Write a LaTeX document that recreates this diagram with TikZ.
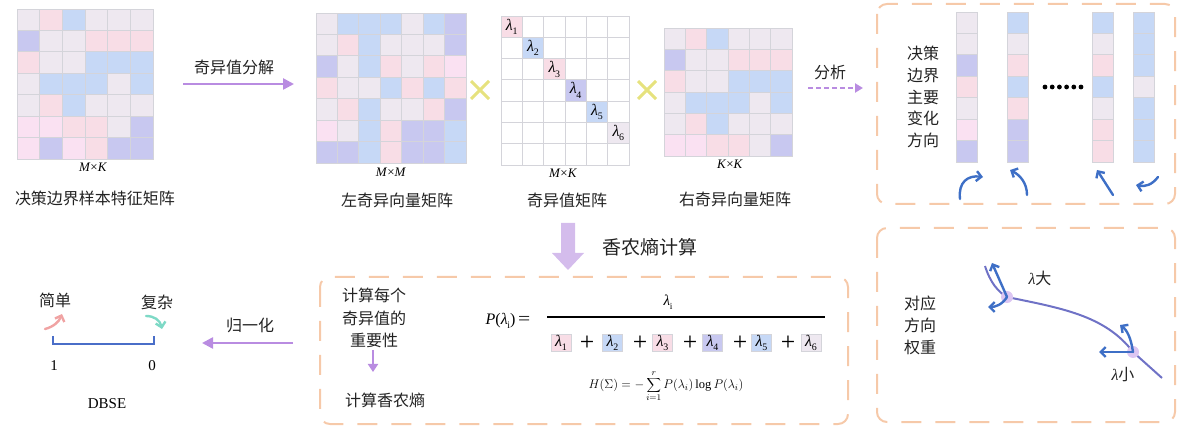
\RequirePackage{fix-cm}
\documentclass[tikz,border=0pt]{standalone}
\usepackage{fontspec}
\setmainfont{Liberation Serif}
\newfontfamily\cjk{Noto Sans CJK SC}
\usetikzlibrary{arrows.meta}
\definecolor{cg}{HTML}{EEE8F0}
\definecolor{cp}{HTML}{F8DDE6}
\definecolor{cm}{HTML}{FAE1F2}
\definecolor{cb}{HTML}{C6D8F6}
\definecolor{cu}{HTML}{C8C8F0}
\definecolor{cw}{HTML}{FFFFFF}
\definecolor{gridc}{HTML}{D4D4DA}
\definecolor{ppl}{HTML}{B98CE1}
\definecolor{fatp}{HTML}{D4BCEC}
\definecolor{boxo}{HTML}{F6C9A9}
\definecolor{blu}{HTML}{3E6FC6}
\definecolor{curvec}{HTML}{6F72C6}
\definecolor{dotc}{HTML}{DCC6F2}
\definecolor{yel}{HTML}{E6E27E}
\definecolor{pinkarr}{HTML}{F0A3A3}
\definecolor{tealarr}{HTML}{7ED9C6}
\definecolor{brk}{HTML}{4A6EC8}
\definecolor{txt}{HTML}{222222}
\newcommand\lamb[1]{\textit{λ}\kern-0.3pt\raisebox{-0.28em}{\scalebox{0.62}{#1}}}
\newcommand\drawmatrix[5]{%
  \foreach \rowlist [count=\ri] in {#5}{%
    \foreach \cc [count=\ci] in \rowlist{%
      \filldraw[fill=c\cc, draw=gridc, line width=0.8pt]
        ({#1+(\ci-1)*#3},{#2+(\ri-1)*#4}) rectangle ++(#3,#4);
    }%
  }%
}
\tikzset{
  cn/.style={font=\cjk\fontsize{16}{18}\selectfont, inner sep=0pt, text=txt},
  dimlbl/.style={font=\fontsize{13}{14}\selectfont, inner sep=0pt},
  parrow/.style={draw=ppl, line width=2.5pt, -{Triangle[length=11pt,width=11pt]}},
  barrow/.style={draw=blu, line width=2.4pt, line cap=round, -{Straight Barb[length=5pt,width=10pt]}},
  obox/.style={draw=boxo, line width=2pt, dash pattern=on 20pt off 14pt, rounded corners=10pt},
  lbox/.style={minimum width=20pt, minimum height=17pt, inner sep=0pt, draw=gridc, line width=0.8pt, font=\fontsize{16}{16}\selectfont},
  plus/.style={font=\fontsize{16}{16}\selectfont, inner sep=0pt},
  cross/.style={draw=yel, line width=3pt},
}
\begin{document}
\begin{tikzpicture}[x=1pt,y=-1pt]
\useasboundingbox (0,0) rectangle (1178,427);
% ---------- matrices ----------
\drawmatrix{17}{9}{22.67}{21.43}{{g,p,b,g,g,g},{u,g,g,p,p,p},{p,g,g,b,b,b},{g,b,b,b,g,b},{g,p,b,g,g,g},{m,m,p,p,g,u},{m,u,m,p,u,u}}
\drawmatrix{316}{13}{21.43}{21.43}{{g,b,b,b,g,b,u},{g,p,b,g,g,g,u},{u,g,b,p,g,p,m},{p,g,g,b,p,b,p},{g,p,b,g,g,p,u},{m,g,b,p,u,u,b},{u,u,b,p,u,u,b}}
\drawmatrix{501}{16}{21.33}{21.3}{{p,w,w,w,w,w},{w,b,w,w,w,w},{w,w,p,w,w,w},{w,w,w,u,w,w},{w,w,w,w,b,w},{w,w,w,w,w,g},{w,w,w,w,w,w}}
\drawmatrix{664}{28}{21.33}{21.33}{{g,p,b,g,g,g},{u,g,g,p,p,p},{p,g,g,b,b,b},{g,b,b,b,g,b},{g,p,b,g,g,g},{m,m,p,p,g,u}}
\foreach \k in {1,...,6}{
  \node[font=\fontsize{16}{16}\selectfont, inner sep=0pt] (lam\k) at ({501+(\k-0.5)*21.33},{16+(\k-0.5)*21.3}) {\lamb{\k}};
}
\node[dimlbl] (d1) at (93,167) {\textit{M}×\textit{K}};
\node[dimlbl] (d2) at (391,172) {\textit{M}×\textit{M}};
\node[dimlbl] (d3) at (563,173) {\textit{M}×\textit{K}};
\node[dimlbl] (d4) at (730,164) {\textit{K}×\textit{K}};
\node[cn] (t1) at (95,198) {决策边界样本特征矩阵};
\node[cn] (t2) at (397,200) {左奇异向量矩阵};
\node[cn] (t3) at (567,200) {奇异值矩阵};
\node[cn] (t4) at (735,199) {右奇异向量矩阵};
% svd arrow
\node[cn] (svd) at (234,67) {奇异值分解};
\coordinate (svdA) at (183,84); \coordinate (svdB) at (294,84);
\draw[parrow] (svdA) -- (svdB);
% crosses
\draw[cross] (471,81) -- (489,99); \draw[cross] (471,99) -- (489,81);
\draw[cross] (638,81) -- (656,99); \draw[cross] (638,99) -- (656,81);
% analysis arrow
\node[cn] (fx) at (830,72) {分析};
\coordinate (fxA) at (808,88); \coordinate (fxB) at (863,88);
\draw[draw=ppl, line width=2pt, dash pattern=on 5pt off 3pt, -{Triangle[length=8pt,width=9pt]}] (fxA) -- (fxB);
% ---------- right top box ----------
\draw[obox] (877,4) rectangle (1175,204);
\node[cn, font=\cjk\fontsize{16}{21.7}\selectfont, align=center] (dir) at (923,97) {决策\\边界\\主要\\变化\\方向};
\drawmatrix{956}{12}{21}{21.43}{{g},{g},{u},{p},{g},{m},{u}}
\drawmatrix{1007}{12}{21}{21.43}{{b},{g},{p},{b},{p},{u},{u}}
\drawmatrix{1092}{12}{21}{21.43}{{b},{g},{p},{b},{g},{p},{p}}
\drawmatrix{1133}{12}{21}{21.43}{{b},{b},{b},{g},{b},{b},{b}}
\foreach \k in {0,...,5}{ \fill ({1045+\k*7.2},87) circle (2.4); }
\draw[barrow] (960,199) .. controls (958,182) and (968,175) .. (983,177);
\draw[barrow] (1027,195) .. controls (1027,183) and (1020,175) .. (1010,170);
\draw[barrow] (1113,195) -- (1097,170);
\draw[barrow] (1158,177) .. controls (1152,185) and (1145,187) .. (1136,185);
% ---------- right bottom box ----------
\draw[obox] (877,228) rectangle (1175,422);
\node[cn, font=\cjk\fontsize{16}{22}\selectfont, align=center] (wt) at (920,325) {对应\\方向\\权重};
\draw[curvec, line width=2pt] (985,266) .. controls (990,282) and (998,292) .. (1007,297)
   .. controls (1060,308) and (1105,315) .. (1133,352) -- (1162,378);
\coordinate (p1) at (1007,297); \coordinate (p2) at (1133,352);
\fill[dotc] (p1) circle (6); \fill[dotc] (p2) circle (6);
\draw[barrow] (p1) -- (992,263);
\draw[barrow] (p1) .. controls (1002,305) and (995,307) .. (988,307);
\draw[barrow] (p2) -- (1099,352);
\draw[barrow] (p2) .. controls (1131,338) and (1127,330) .. (1120,325);
\node[cn] (lb) at (1040,278) {{\rmfamily\itshape λ}大};
\node[cn] (ls) at (1123,375) {{\rmfamily\itshape λ}小};
% ---------- fat arrow ----------
\fill[fatp] (561,223) -- (575,223) -- (575,253) -- (584,253) -- (568,270) -- (552,253) -- (561,253) -- cycle;
\node[cn, font=\cjk\fontsize{19}{20}\selectfont] (sh) at (650,247) {香农熵计算};
% ---------- bottom middle box ----------
\draw[obox] (320,277) rectangle (848,424);
\node[cn, font=\cjk\fontsize{16}{22.5}\selectfont, align=center] (imp) at (374,318) {计算每个\\奇异值的\\重要性};
\node[cn] (ent) at (385,400) {计算香农熵};
\coordinate (sa) at (373,350); \coordinate (sb) at (373,372);
\draw[draw=ppl, line width=2.5pt, -{Triangle[length=8pt,width=10pt]}] (sa) -- (sb);
\node[font=\fontsize{16}{16}\selectfont, inner sep=0pt] (P) at (508,321) {\textit{P}(\lamb{i})\,\scalebox{1.35}[1.1]{=}};
\draw[line width=1.8pt] (547,317) -- (825,317);
\node[font=\fontsize{15}{15}\selectfont, inner sep=0pt] (num) at (668,302) {\lamb{i}};
\node[lbox, fill=cp] (b1) at (561,343) {\lamb{1}};
\node[plus] (s1) at (587,343) {\scalebox{1.6}{+}};
\node[lbox, fill=cb] (b2) at (612.5,343) {\lamb{2}};
\node[plus] (s2) at (640,343) {\scalebox{1.6}{+}};
\node[lbox, fill=cp] (b3) at (662.5,343) {\lamb{3}};
\node[plus] (s3) at (690,343) {\scalebox{1.6}{+}};
\node[lbox, fill=cu] (b4) at (712.5,343) {\lamb{4}};
\node[plus] (s4) at (740,343) {\scalebox{1.6}{+}};
\node[lbox, fill=cb] (b5) at (761.5,343) {\lamb{5}};
\node[plus] (s5) at (788,343) {\scalebox{1.6}{+}};
\node[lbox, fill=cg] (b6) at (811,343) {\lamb{6}};
\node[font=\fontsize{12.5}{12.5}\selectfont, inner sep=0pt] (H) at (666,386) {$\displaystyle H(\Sigma)=-\sum_{i=1}^{r}P(\lambda_i)\log P(\lambda_i)$};
% ---------- bottom left ----------
\node[cn] (nm) at (250,325) {归一化};
\coordinate (nA) at (293,343); \coordinate (nB) at (202,343);
\draw[parrow] (nA) -- (nB);
\node[cn] (simple) at (55,300) {简单};
\node[cn] (complex) at (157,302) {复杂};
\draw[draw=pinkarr, line width=2.4pt, line cap=round, -{Straight Barb[length=5pt,width=10pt]}] (45,329) .. controls (53,327) and (59,322) .. (62,314);
\draw[draw=tealarr, line width=2.4pt, line cap=round, -{Straight Barb[length=5pt,width=10pt]}] (146,316) .. controls (154,316) and (160,320) .. (162,329);
\coordinate (k1) at (53,336); \coordinate (k2) at (154,336);
\draw[brk, line width=2.5pt] (k1) -- ++(0,8) -- ++(101,0) -- (k2);
\node[font=\fontsize{15}{15}\selectfont, inner sep=0pt] (one) at (54,366) {1};
\node[font=\fontsize{15}{15}\selectfont, inner sep=0pt] (zero) at (152,366) {0};
\node[font=\fontsize{15}{15}\selectfont, inner sep=0pt] (dbse) at (107,404) {DBSE};
\end{tikzpicture}
\end{document}
